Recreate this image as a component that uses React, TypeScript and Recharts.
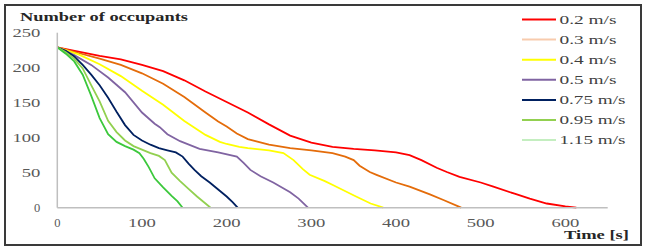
import React from 'react';
import { LineChart, Line, XAxis, YAxis } from 'recharts';

// time [s], number of occupants
const v02 = [[0, 229], [25, 223], [50, 217], [75, 212], [100, 204], [125, 195], [150, 182], [175, 166], [200, 151], [225, 136], [250, 119], [275, 103], [300, 93], [325, 87], [350, 84], [375, 82], [400, 79], [416, 75], [430, 68], [448, 57], [460, 51], [475, 44], [500, 36], [515, 30], [540, 20], [558, 13], [578, 6], [600, 2], [613, 0]];
const v03 = [[0, 229], [25, 221], [50, 213], [75, 204], [100, 192], [125, 177], [150, 158], [175, 136], [190, 123], [200, 116], [212, 106], [225, 98], [250, 90], [275, 85], [300, 82], [325, 78], [340, 73], [350, 68], [357, 60], [369, 51], [377, 47], [400, 36], [416, 30], [440, 19], [456, 11], [477, 0]];
const v04 = [[0, 229], [25, 219], [50, 205], [75, 188], [100, 167], [125, 147], [150, 124], [175, 104], [192, 94], [200, 91], [215, 87], [225, 85], [250, 82], [267, 78], [279, 68], [290, 55], [298, 47], [316, 38], [326, 32], [351, 17], [370, 6], [385, 0]];
const v05 = [[0, 229], [20, 218], [40, 204], [60, 186], [80, 165], [100, 136], [115, 120], [121, 115], [130, 105], [145, 95], [168, 84], [190, 79], [212, 73], [220, 64], [228, 54], [240, 45], [255, 36], [275, 22], [285, 13], [296, 0]];
const v075 = [[0, 229], [10, 224], [20, 216], [30, 204], [40, 190], [50, 175], [60, 157], [70, 137], [80, 118], [90, 104], [100, 96], [110, 90], [120, 85], [130, 82], [140, 79], [148, 73], [155, 63], [162, 54], [170, 45], [180, 36], [190, 26], [200, 16], [207, 8], [213, 0]];
const v095 = [[0, 229], [10, 222], [20, 213], [30, 199], [40, 175], [50, 152], [60, 124], [70, 108], [80, 96], [90, 88], [100, 83], [110, 78], [120, 74], [127, 68], [135, 50], [145, 38], [155, 27], [165, 16], [175, 6], [181, 0]];
const v115 = [[0, 229], [10, 220], [20, 209], [30, 190], [40, 160], [50, 128], [60, 105], [70, 94], [80, 88], [90, 83], [97, 78], [102, 70], [108, 58], [115, 42], [125, 29], [135, 17], [142, 9], [148, 0]];

const labels = ['0.2 m/s', '0.3 m/s', '0.4 m/s', '0.5 m/s', '0.75 m/s', '0.95 m/s', '1.15 m/s'];
const values = [v02, v03, v04, v05, v075, v095, v115];
const lineColors = ['#ff0000', '#e46c0a', '#ffff00', '#8064a2', '#002060', '#92d050', '#3cc83c'];
const keyColors = ['#ff0000', '#f8cbad', '#ffff00', '#8064a2', '#002060', '#92d050', '#c4eec0'];
const xTicks = [0, 100, 200, 300, 400, 500, 600];
const yTicks = [0, 50, 100, 150, 200, 250];

const series = labels.map((name, i) => ({
  name,
  color: lineColors[i],
  data: values[i].map(([t, n]) => ({ t, n })),
}));

const FONT = 'Liberation Serif';

function XTick(props: any) {
  const s = String(props.payload.value);
  return (
    <text x={props.x} y={props.y + 19} textAnchor="middle" fontFamily={FONT} fontSize={12.5} fill="#595959"
      {...(s.length > 1 ? { textLength: s.length * 9.3, lengthAdjust: 'spacingAndGlyphs' } : {})}>
      {s}
    </text>
  );
}

function YTick(props: any) {
  const s = String(props.payload.value);
  return (
    <text x={props.x - 17} y={props.y + 4} textAnchor="end" fontFamily={FONT} fontSize={12.5} fill="#595959"
      {...(s.length > 1 ? { textLength: s.length * 9.3, lengthAdjust: 'spacingAndGlyphs' } : {})}>
      {s}
    </text>
  );
}

export default function App() {
  return (
    <div style={{ position: 'fixed', left: 0, top: 0, width: 650, height: 252, background: '#fff' }}>
      <div style={{ position: 'absolute', left: 4, top: 4, width: 634, height: 238, border: '2px solid #3a3a3a' }} />
      <div style={{ position: 'absolute', left: 0, top: 0 }}>
        <LineChart width={650} height={252} margin={{ top: 32.7, right: 42.3, bottom: 0, left: 0 }}>
          <XAxis dataKey="t" type="number" domain={[0, 650]} ticks={xTicks} allowDataOverflow
            height={44.3} tickLine={false} tickSize={0} tickMargin={0} tick={<XTick />}
            axisLine={{ stroke: '#bfbfbf', strokeWidth: 1.5 }} />
          <YAxis dataKey="n" type="number" domain={[0, 250]} ticks={yTicks} width={57.3}
            tickLine={false} tickSize={0} tickMargin={0} tick={<YTick />}
            axisLine={{ stroke: '#bfbfbf', strokeWidth: 1.5 }} />
          {series.map((s) => (
            <Line key={s.name} name={s.name} data={s.data} dataKey="n" type="linear" stroke={s.color}
              strokeWidth={1.8} dot={false} activeDot={false} isAnimationActive={false} />
          ))}
        </LineChart>
      </div>
      <svg width={650} height={252} style={{ position: 'absolute', left: 0, top: 0, pointerEvents: 'none' }}>
        <text x={20} y={21} fontFamily={FONT} fontSize={13} fontWeight="bold" fill="#262626"
          textLength={168} lengthAdjust="spacingAndGlyphs">Number of occupants</text>
        <text x={564} y={239} fontFamily={FONT} fontSize={13} fontWeight="bold" fill="#262626"
          textLength={65} lengthAdjust="spacingAndGlyphs">Time [s]</text>
        {labels.map((name, i) => (
          <g key={name}>
            <line x1={522} x2={556} y1={19.5 + i * 20.1} y2={19.5 + i * 20.1} stroke={keyColors[i]} strokeWidth={2} />
            <text x={559.5} y={23.5 + i * 20.1} fontFamily={FONT} fontSize={12.5} fill="#404040"
              textLength={name.length > 7 ? 66 : 57} lengthAdjust="spacingAndGlyphs">
              {name}
            </text>
          </g>
        ))}
      </svg>
    </div>
  );
}
